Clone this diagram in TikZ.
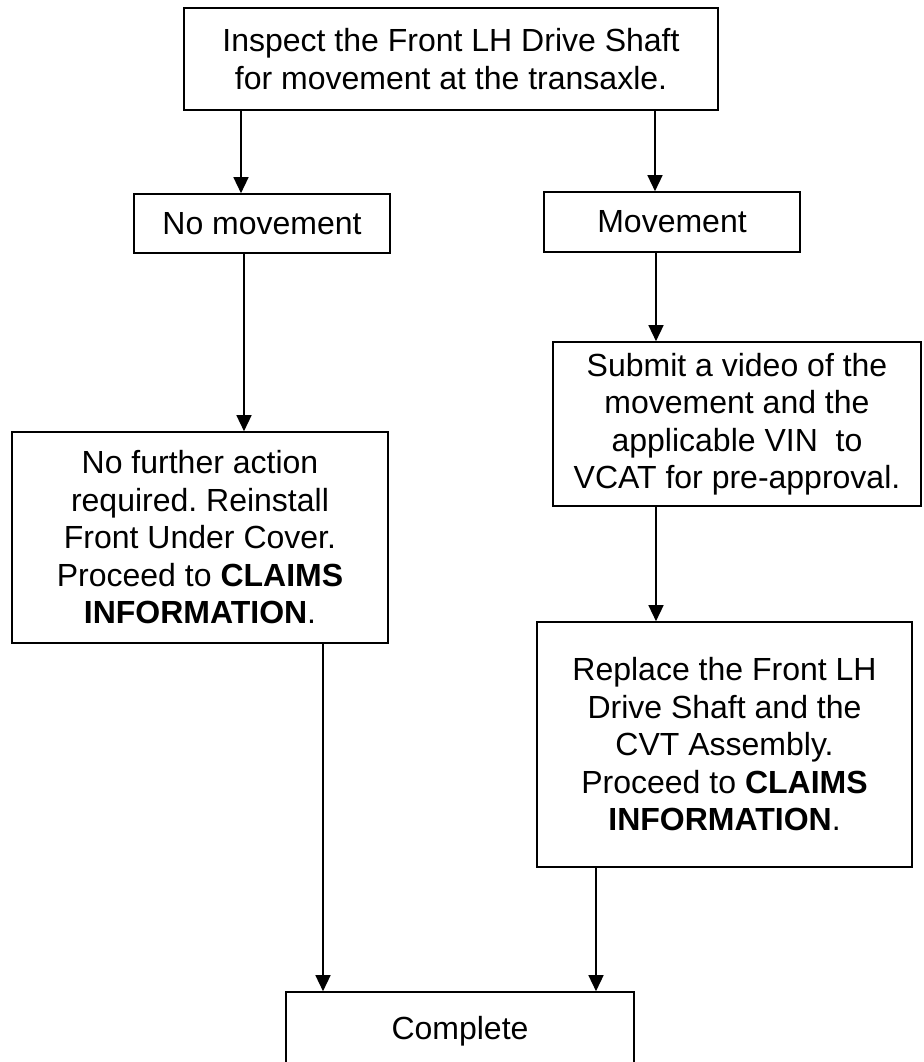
\documentclass[tikz,border=0pt]{standalone}
\usepackage{fontspec}
\setmainfont{Liberation Sans}
\usetikzlibrary{arrows.meta}
\frenchspacing
\begin{document}
\begin{tikzpicture}[x=1pt,y=-1pt,
                caja/.style={draw,line width=1.6pt,align=center,inner sep=0pt,font=\fontsize{32}{37.5}\selectfont},
                flecha/.style={line width=1.4pt,-{Triangle[width=15pt,length=16pt]}}]
                \clip (0,0) rectangle (923,1062); % marco
                \node[caja,minimum width=534pt,minimum height=102pt] (inspect) at (451,59) {Inspect the Front LH Drive Shaft\\for movement at the transaxle.};
                \node[caja,minimum width=256pt,minimum height=59pt] (nomove) at (262,223.5) {No movement};
                \node[caja,minimum width=256pt,minimum height=60pt] (move) at (672,222) {Movement};
                \node[caja,minimum width=376pt,minimum height=211pt] (noaction) at (200,537.5) {No further action\\required. Reinstall\\Front Under Cover.\\Proceed to \textbf{CLAIMS}\\\textbf{INFORMATION}.};
                \node[caja,minimum width=368pt,minimum height=164pt] (submit) at (737,424) {Submit a video of the\\movement and the\\applicable VIN\ \ to\\VCAT for pre-approval.};
                \node[caja,minimum width=375pt,minimum height=245pt] (replace) at (724.5,744.5) {Replace the Front LH\\Drive Shaft and the\\CVT Assembly.\\Proceed to \textbf{CLAIMS}\\\textbf{INFORMATION}.};
                \node[caja,minimum width=348pt,minimum height=78pt] (complete) at (460,1031) {Complete};
                \coordinate (a1) at ([xshift=-21pt]nomove.north);
                \coordinate (a2) at ([xshift=-17pt]move.north);
                \coordinate (a3) at ([xshift=44pt]noaction.north);
                \coordinate (a4) at ([xshift=-81pt]submit.north);
                \coordinate (a5) at ([xshift=-68.5pt]replace.north);
                \coordinate (a6) at ([xshift=-137pt]complete.north);
                \coordinate (a7) at ([xshift=136pt]complete.north);
                \draw[flecha] (a1 |- inspect.south) -- (a1); % no
                \draw[flecha] (a2 |- inspect.south) -- (a2); % si
                \draw[flecha] (a3 |- nomove.south) -- (a3);
                \draw[flecha] (a4 |- move.south) -- (a4);
                \draw[flecha] (a5 |- submit.south) -- (a5);
                \draw[flecha] (a6 |- noaction.south) -- (a6);
                \draw[flecha] (a7 |- replace.south) -- (a7);
\end{tikzpicture}
\end{document}
